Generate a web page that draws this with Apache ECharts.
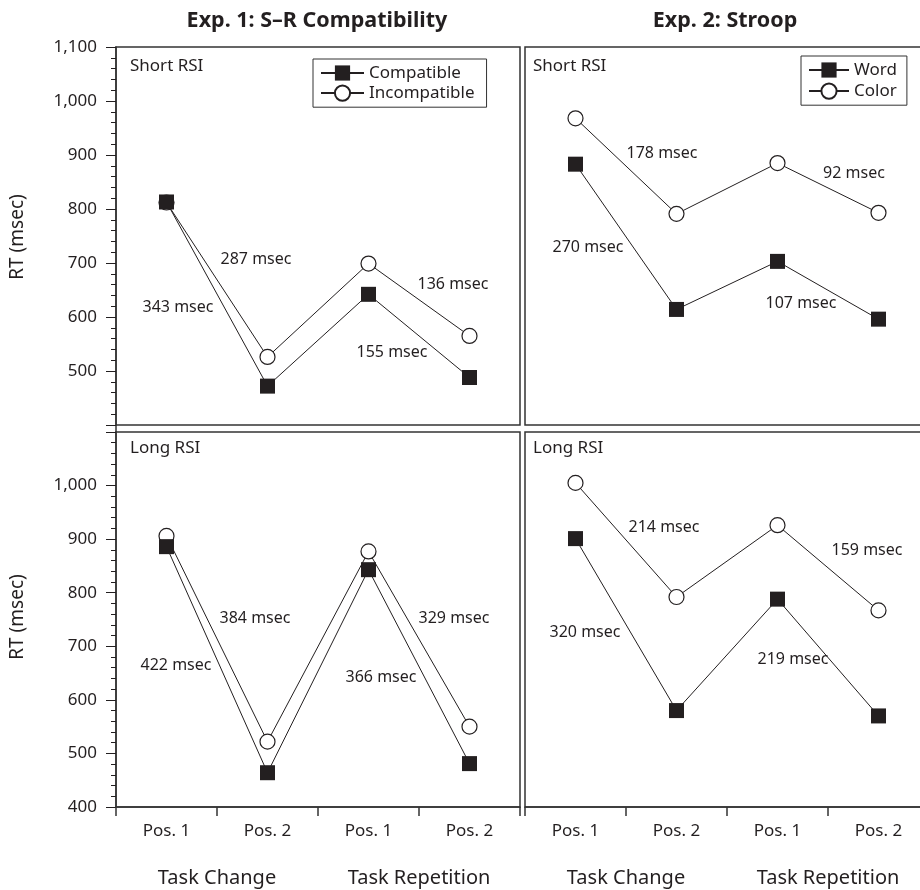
<!DOCTYPE html>
<html>
<head>
<meta charset="utf-8">
<script src="https://cdn.jsdelivr.net/npm/echarts@6/dist/echarts.min.js"></script>
<style>html,body{margin:0;padding:0;background:#fff}#c{width:920px;height:890px}</style>
</head>
<body>
<div id="c"></div>
<script>
// ---- data ----
const categories = ['Pos. 1', 'Pos. 2', 'Pos. 1', 'Pos. 2'];
const groups = ['Task Change', 'Task Repetition'];
const yTicks = [400, 500, 600, 700, 800, 900, 1000, 1100];

const exp1ShortCompatible   = [813, 472, 642, 488];
const exp1ShortIncompatible = [812, 526, 699, 565];
const exp2ShortWord         = [883, 614, 703, 596];
const exp2ShortColor        = [968, 791, 885, 793];
const exp1LongCompatible    = [886, 464, 843, 481];
const exp1LongIncompatible  = [906, 522, 877, 550];
const exp2LongWord          = [901, 580, 788, 570];
const exp2LongColor         = [1005, 792, 926, 767];

const titles = ['Exp. 1: S\u2013R Compatibility', 'Exp. 2: Stroop'];
const panelLabels = ['Short RSI', 'Short RSI', 'Long RSI', 'Long RSI'];
const annotations = [
  ['287 msec', '343 msec', '136 msec', '155 msec'],
  ['178 msec', '270 msec', '92 msec', '107 msec'],
  ['384 msec', '422 msec', '329 msec', '366 msec'],
  ['214 msec', '320 msec', '159 msec', '219 msec']
];

// ---- styles / layout ----
const INK = '#231f20';
const FONT = '"Noto Sans", "Open Sans", sans-serif';
const grids = [
  { left: 116, top: 47, width: 404, height: 378 },
  { left: 525, top: 47, width: 404, height: 378 },
  { left: 116, top: 432, width: 404, height: 375 },
  { left: 525, top: 432, width: 404, height: 375 }
].map(g => Object.assign(g, { show: true, borderColor: '#333', borderWidth: 1.5, containLabel: false, outerBoundsMode: 'none' }));

const chart = echarts.init(document.getElementById('c'), null, { renderer: 'canvas' });

function fmt(v) { return v.toLocaleString('en-US'); }

const yAxes = grids.map((g, i) => {
  const left = (i % 2 === 0);
  const top = i < 2;
  return {
    type: 'value', gridIndex: i, min: yTicks[0], max: yTicks[yTicks.length - 1], interval: 100,
    show: left,
    axisLine: { show: true, lineStyle: { color: '#333', width: 1.5 } },
    axisTick: { show: true, length: 10, inside: false, lineStyle: { color: INK, width: 1 } },
    minorTick: { show: true, splitNumber: 5, length: 5, lineStyle: { color: INK, width: 1 } },
    splitLine: { show: false },
    axisLabel: {
      show: true, margin: 19, color: INK, fontSize: 17, fontFamily: FONT,
      formatter: v => (top && v === 400) || (!top && v === 1100) ? '' : fmt(v)
    }
  };
});

const xAxes = [];
grids.forEach((g, i) => {
  const bottom = i >= 2;
  xAxes.push({
    type: 'category', gridIndex: i, data: categories, boundaryGap: true,
    show: bottom,
    axisLine: { show: true, lineStyle: { color: '#333', width: 1.5 } },
    axisTick: { show: true, length: 9, inside: false, alignWithLabel: false, lineStyle: { color: '#333', width: 1.5 } },
    axisLabel: { show: true, interval: 0, margin: 16, color: INK, fontSize: 17, fontFamily: FONT },
    splitLine: { show: false }
  });
});
[2, 3].forEach(i => {
  xAxes.push({
    type: 'category', gridIndex: i, data: groups, position: 'bottom',
    axisLine: { show: false }, axisTick: { show: false }, splitLine: { show: false },
    axisLabel: { show: true, interval: 0, margin: 61, color: INK, fontSize: 20, fontFamily: FONT }
  });
});

function lineSeries(name, data, idx, shape) {
  const isSquare = shape === 'square';
  return {
    name, type: 'line', data, xAxisIndex: idx, yAxisIndex: idx,
    symbol: isSquare ? 'rect' : 'circle', symbolSize: 15,
    lineStyle: { color: INK, width: 1 },
    itemStyle: isSquare ? { color: INK, borderColor: INK, borderWidth: 0 }
                        : { color: '#fff', borderColor: INK, borderWidth: 1.2 },
    emphasis: { disabled: true },
    animation: false,
    z: isSquare ? 3 : 2
  };
}

const series = [
  lineSeries('Incompatible', exp1ShortIncompatible, 0, 'circle'),
  lineSeries('Compatible', exp1ShortCompatible, 0, 'square'),
  lineSeries('Color', exp2ShortColor, 1, 'circle'),
  lineSeries('Word', exp2ShortWord, 1, 'square'),
  lineSeries('Incompatible', exp1LongIncompatible, 2, 'circle'),
  lineSeries('Compatible', exp1LongCompatible, 2, 'square'),
  lineSeries('Color', exp2LongColor, 3, 'circle'),
  lineSeries('Word', exp2LongWord, 3, 'square')
];

function txt(text, x, y, size, opts) {
  opts = opts || {};
  return {
    type: 'text', x, y, rotation: opts.rotation || 0, silent: true,
    style: {
      text, fill: INK,
      font: (opts.bold ? 'bold ' : '') + size + 'px ' + FONT,
      align: opts.align || 'center', verticalAlign: 'middle'
    }
  };
}

// annotation centres (pixel layout)
const annPos = [
  [[256, 259], [178, 307], [453, 284], [392, 352]],
  [[662, 153], [588, 247], [854, 173], [801, 303]],
  [[255, 618], [176, 665], [454, 618], [381, 677]],
  [[664, 527], [585, 632], [867, 550], [793, 659]]
];
const graphics = [
  txt(titles[0], 317, 21, 21.5, { bold: true }),
  txt(titles[1], 725, 21, 21.5, { bold: true }),
  txt('RT (msec)', 18, 237, 19, { rotation: Math.PI / 2 }),
  txt('RT (msec)', 18, 617, 19, { rotation: Math.PI / 2 }),
  txt(panelLabels[0], 130, 66, 17, { align: 'left' }),
  txt(panelLabels[1], 533, 66, 17, { align: 'left' }),
  txt(panelLabels[2], 130, 448, 17, { align: 'left' }),
  txt(panelLabels[3], 533, 448, 17, { align: 'left' }),
  { type: 'line', silent: true, shape: { x1: 116, y1: 425, x2: 116, y2: 432 }, style: { stroke: '#333', lineWidth: 1.5 } }
];
annotations.forEach((arr, p) => arr.forEach((t, k) => {
  graphics.push(txt(t, annPos[p][k][0], annPos[p][k][1], 16));
}));

const legendBase = {
  orient: 'vertical', borderColor: '#333', borderWidth: 1, backgroundColor: '#fff',
  itemHeight: 19, selectedMode: false,
  textStyle: { color: INK, fontSize: 17, fontFamily: FONT }
};

chart.setOption({
  backgroundColor: '#fff',
  animation: false,
  textStyle: { fontFamily: FONT },
  grid: grids,
  xAxis: xAxes,
  yAxis: yAxes,
  legend: [
    Object.assign({}, legendBase, { data: ['Compatible', 'Incompatible'], left: 313, top: 59, itemWidth: 43, itemGap: 3, padding: [5.5, 12, 5.5, 7] }),
    Object.assign({}, legendBase, { data: ['Word', 'Color'], left: 801, top: 56, itemWidth: 40, itemGap: 4, padding: [5.5, 10, 5.5, 7] })
  ],
  series,
  graphic: graphics
});
</script>
</body>
</html>
